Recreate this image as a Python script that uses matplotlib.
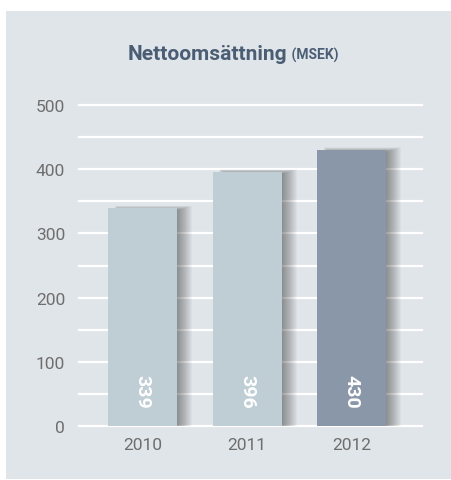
import matplotlib
matplotlib.use('Agg')
import matplotlib.pyplot as plt
from matplotlib.patches import Rectangle

# data
years = ['2010', '2011', '2012']
sales = [339, 396, 430]
bar_colors = ['#bfcdd4', '#bfcdd4', '#8a97a8']
yticks = [0, 100, 200, 300, 400, 500]
grid_levels = [0, 50, 100, 150, 200, 250, 300, 350, 400, 450, 500]

BG = '#e0e5e9'
FONT = ['Roboto', 'DejaVu Sans']
W, H = 451, 481

fig = plt.figure(figsize=(W / 100, H / 100), dpi=100)
fig.patch.set_facecolor('white')
fig.patches.append(Rectangle((6 / W, 1 / H), 445 / W, 468 / H,
                             transform=fig.transFigure, facecolor=BG,
                             edgecolor='none', zorder=-5))

# axes placed in pixel coords of the reference
left, right, top, bottom = 79, 422, 106, 427
ax = fig.add_axes([left / W, (H - bottom) / H, (right - left) / W,
                   (bottom - top) / H])
ax.set_facecolor('none')
for s in ax.spines.values():
    s.set_visible(False)

px_x = 1 / 104.5                 # x data units per pixel
px_y = 500 / (bottom - top)      # y data units per pixel
x0 = -63.5 * px_x
ax.set_xlim(x0, x0 + (right - left) * px_x)
ax.set_ylim(0, 500)

for g in grid_levels:
    ax.axhline(g, color='white', lw=1.6, zorder=1, clip_on=False)

width = 69 * px_x
for i, (v, c) in enumerate(zip(sales, bar_colors)):
    # soft drop shadow, mostly on the right
    for s in range(1, 16):
        ax.add_patch(Rectangle((i - width / 2 + (14 - s * 0.5) * px_x, 0),
                               width + (s - 14 + s * 0.5) * px_x,
                               v + (s * 0.3 - 2) * px_y,
                               facecolor='black', alpha=0.026,
                               edgecolor='none', zorder=2))
    ax.bar(i, v, width=width, color=c, zorder=3)
    ax.text(i, 55, str(v), rotation=-90, ha='center', va='center',
            color='white', fontsize=14, fontweight='bold', family=FONT,
            zorder=4)

ax.set_xticks(range(len(years)))
ax.set_xticklabels(years)
ax.set_yticks(yticks)
ax.tick_params(length=0, colors='#6e6e6e', labelsize=12.5)
ax.tick_params(axis='y', pad=10)
ax.tick_params(axis='x', pad=8)
for lab in ax.get_xticklabels() + ax.get_yticklabels():
    lab.set_family(FONT)

t1 = fig.text(0, 1 - 60 / H, 'Nettoomsättning', va='baseline',
              color='#4b5d74', fontsize=15, fontweight='bold', family=FONT)
t2 = fig.text(0, 1 - 60 / H, ' (MSEK)', va='baseline',
              color='#4b5d74', fontsize=10, fontweight='bold', family=FONT)
fig.canvas.draw()
r = fig.canvas.get_renderer()
w1 = t1.get_window_extent(r).width
w2 = t2.get_window_extent(r).width
start = 233 - (w1 + w2) / 2
t1.set_x(start / W)
t2.set_x((start + w1) / W)

fig.savefig('out.png', dpi=100, facecolor=fig.get_facecolor())
